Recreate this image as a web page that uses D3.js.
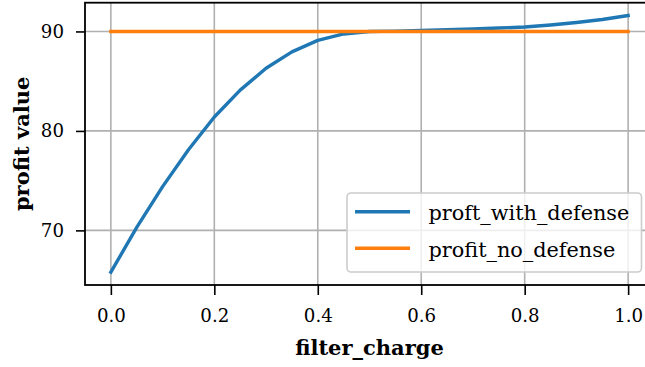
<!DOCTYPE html>
<html>
<head>
<meta charset="utf-8">
<script src="https://cdn.jsdelivr.net/npm/d3@7"></script>
<style>
  html, body { margin: 0; padding: 0; background: #fff; }
  svg { display: block; }
  svg text { font-family: "DejaVu Serif", serif; fill: #000; }
</style>
</head>
<body>
<svg id="chart" width="645" height="367"></svg>
<script>
// ---- data ----
const filterCharge = [0.0, 0.05, 0.1, 0.15, 0.2, 0.25, 0.3, 0.35, 0.4, 0.45, 0.5,
                      0.55, 0.6, 0.65, 0.7, 0.75, 0.8, 0.85, 0.9, 0.95, 1.0];
const profitWithDefense = [65.8, 70.3, 74.4, 78.1, 81.4, 84.1, 86.3, 87.95, 89.1, 89.75, 90.0,
                           90.03, 90.1, 90.17, 90.25, 90.34, 90.45, 90.65, 90.9, 91.2, 91.6];
const profitNoDefense = [90, 90, 90, 90, 90, 90, 90, 90, 90, 90, 90,
                         90, 90, 90, 90, 90, 90, 90, 90, 90, 90];
const seriesNames = ["proft_with_defense", "profit_no_defense"];
const seriesColors = ["#1f77b4", "#ff7f0e"];
const xTicks = [0.0, 0.2, 0.4, 0.6, 0.8, 1.0];
const yTicks = [70, 80, 90];
const xLabel = "filter_charge";
const yLabel = "profit value";

// ---- layout ----
const FONT = "DejaVu Serif";
const svg = d3.select("#chart");
const pL = 85, pR = 654, pT = 2.7, pB = 285;

const x = d3.scaleLinear().domain([-0.05, 1.05]).range([pL, pR]);
const allY = profitWithDefense.concat(profitNoDefense);
const yMin = d3.min(allY), yMax = d3.max(allY), yPad = (yMax - yMin) * 0.05;
const y = d3.scaleLinear().domain([yMin - yPad, yMax + yPad]).range([pB, pT]);

// grid
const grid = svg.append("g");
grid.selectAll(".gx").data(xTicks).enter().append("line")
  .attr("x1", d => x(d)).attr("x2", d => x(d))
  .attr("y1", pT).attr("y2", pB)
  .attr("stroke", "#b0b0b0").attr("stroke-width", 1.6);
grid.selectAll(".gy").data(yTicks).enter().append("line")
  .attr("x1", pL).attr("x2", pR)
  .attr("y1", d => y(d)).attr("y2", d => y(d))
  .attr("stroke", "#b0b0b0").attr("stroke-width", 1.6);

// lines
const series = [profitWithDefense, profitNoDefense];
const line = d3.line().x((d, i) => x(filterCharge[i])).y(d => y(d));
series.forEach((s, k) => {
  svg.append("path").datum(s)
    .attr("d", line)
    .attr("fill", "none")
    .attr("stroke", seriesColors[k])
    .attr("stroke-width", 3.4)
    .attr("stroke-linecap", "square")
    .attr("stroke-linejoin", "round");
});

// spines
svg.append("rect").attr("x", pL).attr("y", pT)
  .attr("width", pR - pL).attr("height", pB - pT)
  .attr("fill", "none").attr("stroke", "#000").attr("stroke-width", 1.8);

// axes
const xAxis = d3.axisBottom(x).tickValues(xTicks).tickFormat(d3.format(".1f"))
  .tickSize(10).tickPadding(7);
const gx = svg.append("g").attr("transform", `translate(0,${pB})`).call(xAxis)
  .attr("font-family", FONT);
gx.select(".domain").remove();
gx.selectAll(".tick line").attr("stroke", "#000").attr("stroke-width", 1.6);
gx.selectAll(".tick text").attr("font-size", "18.2px").attr("fill", "#000")
  .attr("y", 37).attr("dy", 0);

const yAxis = d3.axisLeft(y).tickValues(yTicks).tickFormat(d3.format("d"))
  .tickSize(9).tickPadding(12);
const gy = svg.append("g").attr("transform", `translate(${pL},0)`).call(yAxis)
  .attr("font-family", FONT);
gy.select(".domain").remove();
gy.selectAll(".tick line").attr("stroke", "#000").attr("stroke-width", 1.6);
gy.selectAll(".tick text").attr("font-size", "18.2px").attr("fill", "#000");

// labels
svg.append("text").attr("x", (pL + pR) / 2).attr("y", 355)
  .attr("text-anchor", "middle").attr("font-weight", "bold").attr("font-size", "21px")
  .text(xLabel);
svg.append("text").attr("transform", `translate(29,${(pT + pB) / 2}) rotate(-90)`)
  .attr("text-anchor", "middle").attr("font-weight", "bold").attr("font-size", "21px")
  .text(yLabel);

// legend
const lg = svg.append("g");
lg.append("rect").attr("x", 347).attr("y", 193).attr("width", 294.5).attr("height", 79)
  .attr("rx", 4).attr("ry", 4)
  .attr("fill", "#fff").attr("fill-opacity", 0.8)
  .attr("stroke", "#cccccc").attr("stroke-width", 1.6);
seriesNames.forEach((name, k) => {
  const cy = 211.7 + k * 36.6;
  lg.append("line").attr("x1", 355).attr("x2", 410).attr("y1", cy).attr("y2", cy)
    .attr("stroke", seriesColors[k]).attr("stroke-width", 3.4);
  lg.append("text").attr("x", 428.5).attr("y", cy + 8.7)
    .attr("font-size", "20.8px").text(name);
});
</script>
</body>
</html>
